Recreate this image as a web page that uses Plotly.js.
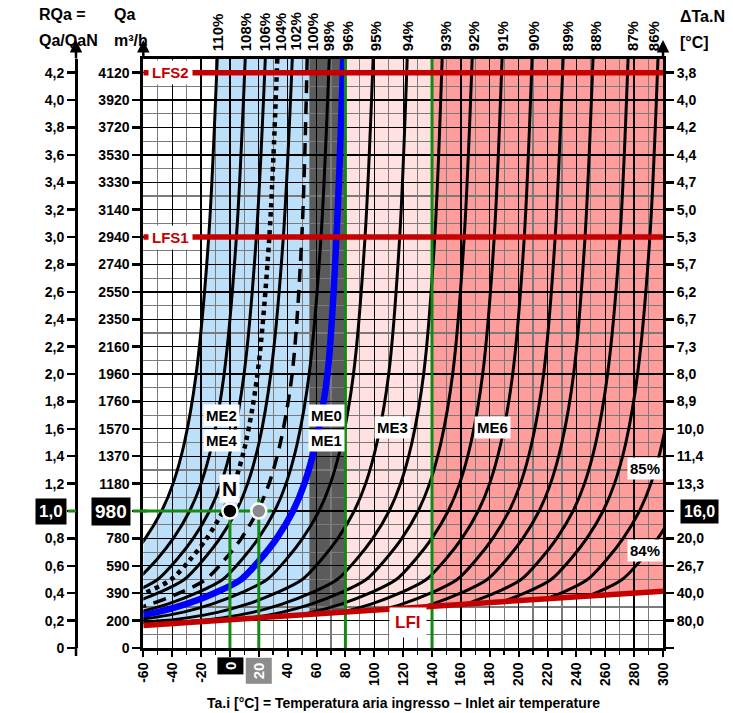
<!DOCTYPE html>
<html>
<head>
<meta charset="utf-8">
<script src="https://cdn.plot.ly/plotly-3.0.1.min.js"></script>
<style>
  html, body { margin: 0; padding: 0; background: #fff; }
  #chart { width: 733px; height: 713px; }
</style>
</head>
<body>
<div id="chart"></div>
<script>
// ---- RQa levels at which every efficiency curve is sampled ----
const rqaLevels = [4.3, 3.0, 2.0, 1.5, 1.2, 1.0, 0.8, 0.65, 0.5, 0.4, 0.32, 0.26, 0.22, 0.2, 0.18];

// ---- inlet air temperature (°C) of each efficiency curve at those levels ----
const eff110 = [-8.8, -14.7, -23.4, -31.5, -39.4, -47.3, -58.6, -69.7];
const eff108 = [10.6, 4.5, -4, -12.1, -20, -27.9, -39.2, -50.3, -63.9];
const eff106 = [24.5, 18.3, 9.8, 1.7, -6.2, -14.1, -25.4, -36.5, -50.1, -68.6];
const eff104 = [32.8, 27.3, 19.1, 11, 3.1, -4.8, -16.1, -27.2, -40.8, -59.3, -79];
const eff102 = [43.2, 37, 28.3, 20.2, 12.3, 4.4, -6.9, -18, -31.6, -50.1, -69.8];
const eff100 = [53.5, 49.8, 43.1, 35, 27.1, 19.2, 7.9, -3.2, -16.8, -35.3, -55, -75.5];
const eff98  = [68.8, 63.1, 54.9, 46.8, 38.9, 31, 19.7, 8.6, -5, -23.5, -43.2, -63.7];
const eff96  = [78.5, 73.8, 67.6, 59.5, 51.6, 43.7, 32.4, 21.3, 7.7, -10.8, -30.5, -51, -72];
const eff95  = [99.2, 93.6, 85.6, 77.5, 69.6, 61.7, 50.4, 39.3, 25.7, 7.2, -12.5, -33, -54, -70, -92];
const eff94  = [122.8, 117.6, 110, 101.9, 94, 86.1, 74.8, 63.7, 50.1, 31.6, 11.9, -8.6, -29.6, -45.6, -67.6];
const eff93  = [147, 141.9, 134.2, 126.1, 118.2, 110.3, 99, 87.9, 74.3, 55.8, 36.1, 15.6, -5.4, -21.4, -43.4];
const eff92  = [167.8, 162.3, 154.3, 146.2, 138.3, 130.4, 119.1, 108, 94.4, 75.9, 56.2, 35.7, 14.7, -1.3, -23.3];
const eff91  = [188.5, 183.1, 175.1, 167, 159.1, 151.2, 139.9, 128.8, 115.2, 96.7, 77, 56.5, 35.5, 19.5, -2.5];
const eff90  = [209.3, 203.9, 195.9, 187.8, 179.9, 172, 160.7, 149.6, 136, 117.5, 97.8, 77.3, 56.3, 40.3, 18.3];
const eff89  = [230.8, 225.3, 217.3, 209.2, 201.3, 193.4, 182.1, 171, 157.4, 138.9, 119.2, 98.7, 77.7, 61.7, 39.7];
const eff88  = [251.5, 246, 238.1, 230, 222.1, 214.2, 202.9, 191.8, 178.2, 159.7, 140, 119.5, 98.5, 82.5, 60.5];
const eff87  = [275.8, 270.2, 261.6, 253.5, 245.6, 237.7, 226.4, 215.3, 201.7, 183.2, 163.5, 143, 122, 106, 84];
const eff86  = [296.5, 290.9, 282.4, 274.3, 266.4, 258.5, 247.2, 236.1, 222.5, 204, 184.3, 163.8, 142.8, 126.8, 104.8];
const eff85  = [320, 314, 307.6, 299.5, 291.6, 283.7, 272.4, 261.3, 247.7, 229.2, 209.5, 189, 168, 152, 130];
const eff84  = [344, 338, 331.6, 323.5, 315.6, 307.7, 296.4, 285.3, 271.7, 253.2, 233.5, 213, 192, 176, 154];

// ---- limit lines ----
const lfiTemp = [-60, 300];      // LFI, lower flow limit
const lfiRqa  = [0.165, 0.415];
const lfs1Rqa = 3.0;             // LFS1
const lfs2Rqa = 4.2;             // LFS2

// ---- operating zones (inlet temperature bounds) ----
const zoneMeBlueEnd = 55;
const zoneMe0End    = 80;
const zoneMe3End    = 140;
const zoneMe6End    = 300;

// ---- nominal point ----
const nominalRqa   = 1.0;
const nominalTemp  = 0;
const secondTemp   = 20;
const nominalLineEnd = 29;       // end of the horizontal guide
const secondGuideTop = 1.09;     // top of the 20 °C guide

// ---- axis ticks ----
const rqaTicks = [0, 0.2, 0.4, 0.6, 0.8, 1.0, 1.2, 1.4, 1.6, 1.8, 2.0, 2.2, 2.4, 2.6, 2.8, 3.0, 3.2, 3.4, 3.6, 3.8, 4.0, 4.2];
const rqaText  = ['0', '0,2', '0,4', '0,6', '0,8', '1,0', '1,2', '1,4', '1,6', '1,8', '2,0', '2,2', '2,4', '2,6', '2,8', '3,0', '3,2', '3,4', '3,6', '3,8', '4,0', '4,2'];
const qaText   = ['0', '200', '390', '590', '780', '980', '1180', '1370', '1570', '1760', '1960', '2160', '2350', '2550', '2740', '2940', '3140', '3330', '3530', '3720', '3920', '4120'];
const dtText   = ['', '80,0', '40,0', '26,7', '20,0', '16,0', '13,3', '11,4', '10,0', '8,9', '8,0', '7,3', '6,7', '6,2', '5,7', '5,3', '5,0', '4,7', '4,4', '4,2', '4,0', '3,8'];
const tempTicks = [-60, -40, -20, 0, 20, 40, 60, 80, 100, 120, 140, 160, 180, 200, 220, 240, 260, 280, 300];

// ---- drawing setup ----
const FONT = "'Liberation Sans', Arial, sans-serif";
const RED = '#c40000', GREEN = '#138a13', BLUE = '#0000ff';
const Y_MAX = 4.3;

// label x positions of the efficiency names printed above the frame
const topLabelX = [-8.8, 10.6, 23.8, 34.9, 44.8, 57, 68.1, 81.2, 100.6, 122.8, 149.1, 168.5, 188.6, 210, 233.6, 253, 278.6, 293.2];

const curves = [
  { label: '110%', t: eff110, dash: 'solid' },
  { label: '108%', t: eff108, dash: 'solid' },
  { label: '106%', t: eff106, dash: 'solid' },
  { label: '104%', t: eff104, dash: 'dot' },
  { label: '102%', t: eff102, dash: 'solid' },
  { label: '100%', t: eff100, dash: 'dash' },
  { label: '98%',  t: eff98,  dash: 'solid' },
  { label: '96%',  t: eff96,  dash: 'solid', blue: true },
  { label: '95%',  t: eff95,  dash: 'solid' },
  { label: '94%',  t: eff94,  dash: 'solid' },
  { label: '93%',  t: eff93,  dash: 'solid' },
  { label: '92%',  t: eff92,  dash: 'solid' },
  { label: '91%',  t: eff91,  dash: 'solid' },
  { label: '90%',  t: eff90,  dash: 'solid' },
  { label: '89%',  t: eff89,  dash: 'solid' },
  { label: '88%',  t: eff88,  dash: 'solid' },
  { label: '87%',  t: eff87,  dash: 'solid' },
  { label: '86%',  t: eff86,  dash: 'solid' },
  { label: '85%',  t: eff85,  dash: 'solid', inside: true },
  { label: '84%',  t: eff84,  dash: 'solid', inside: true }
];

function lfiAt(t) {
  return lfiRqa[0] + (t - lfiTemp[0]) * (lfiRqa[1] - lfiRqa[0]) / (lfiTemp[1] - lfiTemp[0]);
}

// stop a curve where it meets the LFI line
function cutAtLfi(temps) {
  const xs = [], ys = [];
  for (let i = 0; i < temps.length; i++) {
    const t = temps[i], r = rqaLevels[i];
    if (i > 0 && r < lfiAt(t)) {
      const t0 = xs[i - 1], r0 = ys[i - 1];
      const f0 = r0 - lfiAt(t0), f1 = r - lfiAt(t);
      const k = f0 / (f0 - f1);
      xs.push(t0 + (t - t0) * k);
      ys.push(r0 + (r - r0) * k);
      break;
    }
    xs.push(t); ys.push(r);
  }
  return { xs, ys };
}

// keep the part of a curve that lies right of xmin
function clipLeft(xs, ys, xmin) {
  const px = [], py = [];
  for (let i = 0; i < xs.length; i++) {
    if (xs[i] >= xmin) { px.push(xs[i]); py.push(ys[i]); continue; }
    if (i > 0) {
      const k = (xmin - xs[i - 1]) / (xs[i] - xs[i - 1]);
      px.push(xmin); py.push(ys[i - 1] + (ys[i] - ys[i - 1]) * k);
    }
    break;
  }
  return { xs: px, ys: py };
}

function pathOf(pts) {
  return 'M' + pts.map(p => p[0] + ',' + p[1]).join('L') + 'Z';
}

// ---- zone fills (drawn under the grid) ----
const c110 = cutAtLfi(eff110);
const edge = clipLeft(c110.xs, c110.ys, lfiTemp[0]);
const bluePts = edge.xs.map((x, i) => [x, edge.ys[i]]);
bluePts.push([lfiTemp[0], lfiAt(lfiTemp[0])], [zoneMeBlueEnd, lfiAt(zoneMeBlueEnd)], [zoneMeBlueEnd, Y_MAX]);
function band(a, b) {
  return [[a, lfiAt(a)], [b, lfiAt(b)], [b, Y_MAX], [a, Y_MAX]];
}
const zoneShape = (pts, color) => ({
  type: 'path', xref: 'x', yref: 'y', layer: 'below',
  path: pathOf(pts), fillcolor: color, line: { width: 0 }
});

const shapes = [
  zoneShape(bluePts, '#bde0fa'),
  zoneShape(band(zoneMeBlueEnd, zoneMe0End), '#5b5b5b'),
  zoneShape(band(zoneMe0End, zoneMe3End), '#ffe1e1'),
  zoneShape(band(zoneMe3End, zoneMe6End), '#ff9c9c')
];

// ---- traces ----
const traces = [];
curves.forEach(c => {
  const p = cutAtLfi(c.t);
  let line;
  if (c.blue) line = { color: BLUE, width: 6.5, shape: 'spline', smoothing: 0.9 };
  else if (c.dash === 'dot') line = { color: '#000', width: 4.5, dash: '4.5px,4.5px', shape: 'spline', smoothing: 0.9 };
  else if (c.dash === 'dash') line = { color: '#000', width: 3.5, dash: '13px,8px', shape: 'spline', smoothing: 0.9 };
  else line = { color: '#000', width: 3, shape: 'spline', smoothing: 0.9 };
  traces.push({ x: p.xs, y: p.ys, type: 'scatter', mode: 'lines', hoverinfo: 'skip', line });
});

// green guides
const greenLine = (x, y) => ({ x, y, type: 'scatter', mode: 'lines', hoverinfo: 'skip', line: { color: GREEN, width: 3 } });
traces.push(greenLine([zoneMe0End, zoneMe0End], [0, Y_MAX]));
traces.push(greenLine([zoneMe3End, zoneMe3End], [0, Y_MAX]));
traces.push(greenLine([nominalTemp, nominalTemp], [0, nominalRqa]));
traces.push(greenLine([secondTemp, secondTemp], [0, secondGuideTop]));
traces.push(greenLine([lfiTemp[0], nominalLineEnd], [nominalRqa, nominalRqa]));

// limit lines
const redLine = (x, y) => ({ x, y, type: 'scatter', mode: 'lines', hoverinfo: 'skip', line: { color: RED, width: 5.5 } });
traces.push(redLine(lfiTemp, lfiRqa));
traces.push(redLine(lfiTemp, [lfs1Rqa, lfs1Rqa]));
traces.push(redLine(lfiTemp, [lfs2Rqa, lfs2Rqa]));

// operating points
traces.push({
  x: [nominalTemp, secondTemp], y: [nominalRqa, nominalRqa], type: 'scatter', mode: 'markers', hoverinfo: 'skip',
  marker: { size: 15, color: ['#000', '#8a8a8a'], line: { color: '#fff', width: 2.5 } }
});

// carriers for the extra y axes
traces.push({ x: [lfiTemp[0]], y: [0], yaxis: 'y2', type: 'scatter', mode: 'markers', marker: { opacity: 0 }, hoverinfo: 'skip' });
traces.push({ x: [lfiTemp[0]], y: [0], yaxis: 'y3', type: 'scatter', mode: 'markers', marker: { opacity: 0 }, hoverinfo: 'skip' });

// ---- geometry of the page ----
const W = 733, H = 713;
const M = { l: 76, r: 70, t: 59, b: 65 };
const PW = W - M.l - M.r, PH = H - M.t - M.b;
const xDomStart = (143.3 - M.l) / PW;
const px2paperX = px => (px - M.l) / PW;
const py2paperY = py => (H - M.b - py) / PH;

const tickFont = { family: FONT, size: 14, color: '#000', weight: 'bold' };
const blankAt = (arr, i) => arr.map((s, k) => (k === i ? '' : s));
const iNom = rqaTicks.indexOf(nominalRqa);

// ---- annotations ----
const ann = [];
const bold = (size, color) => ({ family: FONT, size, color: color || '#000', weight: 'bold' });

// efficiency labels above the frame
curves.filter(c => !c.inside).forEach((c, i) => {
  ann.push({ xref: 'x', yref: 'paper', x: topLabelX[i], y: 1, yshift: 7, yanchor: 'bottom', xanchor: 'center',
             textangle: -90, text: c.label, showarrow: false, font: bold(15), borderpad: 0 });
});
// efficiency labels inside the plot
const insideLabels = [
  { text: '85%', x: 287.4, y: 1.31 },
  { text: '84%', x: 287.4, y: 0.714 }
];
insideLabels.forEach(l => ann.push({ x: l.x, y: l.y, text: l.text, showarrow: false, bgcolor: '#fff', borderpad: 2, font: bold(15) }));

// zone names
const zoneLabels = [
  { text: 'ME2', x: -5.5, y: 1.70 }, { text: 'ME4', x: -5.5, y: 1.517 },
  { text: 'ME0', x: 67.2, y: 1.70 }, { text: 'ME1', x: 67.2, y: 1.517 },
  { text: 'ME3', x: 112.9, y: 1.61 }, { text: 'ME6', x: 182.1, y: 1.61 }
];
zoneLabels.forEach(l => ann.push({ x: l.x, y: l.y, text: l.text, showarrow: false, bgcolor: '#fff', borderpad: 2, font: bold(15) }));

// limit line names
ann.push({ x: -41.5, y: lfs2Rqa, text: 'LFS2', showarrow: false, bgcolor: '#fff', borderpad: 3, font: bold(15, RED) });
ann.push({ x: -41.5, y: lfs1Rqa, text: 'LFS1', showarrow: false, bgcolor: '#fff', borderpad: 3, font: bold(15, RED) });
ann.push({ x: 123.3, y: 0.188, text: 'LFI', showarrow: false, bgcolor: '#fff', borderpad: 5, font: bold(17, RED) });

// nominal point label
ann.push({ x: nominalTemp, y: nominalRqa, yshift: 23, text: 'N', showarrow: false, bgcolor: '#fff', borderpad: 2, font: bold(21) });

// highlighted tick values
ann.push({ xref: 'paper', x: 0, xshift: -9, xanchor: 'right', y: nominalRqa, text: rqaText[iNom], showarrow: false,
           bgcolor: '#000', borderpad: 3, font: bold(17, '#fff') });
ann.push({ xref: 'paper', x: xDomStart, xshift: -12, xanchor: 'right', y: nominalRqa, text: qaText[iNom], showarrow: false,
           bgcolor: '#000', borderpad: 3, font: bold(19, '#fff') });
ann.push({ xref: 'paper', x: 1, xshift: 17, xanchor: 'left', y: nominalRqa, text: dtText[iNom], showarrow: false,
           bgcolor: '#000', borderpad: 3, font: bold(16, '#fff') });
ann.push({ x: nominalTemp, yref: 'paper', y: 0, yshift: -9, yanchor: 'top', textangle: -90, text: String(nominalTemp),
           showarrow: false, bgcolor: '#000', borderpad: 4, font: bold(15, '#fff') });
ann.push({ x: secondTemp, yref: 'paper', y: 0, yshift: -9, yanchor: 'top', textangle: -90, text: String(secondTemp),
           showarrow: false, bgcolor: '#8c8c8c', borderpad: 4, font: bold(15, '#fff') });

// axis headers
ann.push({ xref: 'paper', yref: 'paper', x: px2paperX(37), y: py2paperY(15), yanchor: 'middle', text: 'RQa =', showarrow: false, font: bold(16) });
ann.push({ xref: 'paper', yref: 'paper', x: px2paperX(37), y: py2paperY(40), yanchor: 'middle', text: 'Qa/QaN', showarrow: false, font: bold(16) });
ann.push({ xref: 'paper', yref: 'paper', x: px2paperX(112), y: py2paperY(15), yanchor: 'middle', text: 'Qa', showarrow: false, font: bold(16) });
ann.push({ xref: 'paper', yref: 'paper', x: px2paperX(112), y: py2paperY(40), yanchor: 'middle', text: 'm³/h', showarrow: false, font: bold(16) });
ann.push({ xref: 'paper', yref: 'paper', x: px2paperX(678), xanchor: 'left', y: py2paperY(16), yanchor: 'middle', text: 'ΔTa.N', showarrow: false, font: bold(16) });
ann.push({ xref: 'paper', yref: 'paper', x: px2paperX(678), xanchor: 'left', y: py2paperY(42), yanchor: 'middle', text: '[°C]', showarrow: false, font: bold(16) });
ann.push({ xref: 'paper', yref: 'paper', x: px2paperX(403), y: py2paperY(703), yanchor: 'middle',
           text: 'Ta.i [°C] = Temperatura aria ingresso – Inlet air temperature', showarrow: false, font: bold(14) });

// axis arrows
[0, xDomStart, 1].forEach(x => ann.push({
  xref: 'paper', yref: 'paper', x, y: py2paperY(40), ax: 0, ay: 20, text: '', showarrow: true,
  arrowhead: 2, arrowsize: 1, arrowwidth: 2.5, arrowcolor: '#000'
}));

// green marks on the two left axes at the nominal flow
shapes.push({ type: 'line', xref: 'paper', yref: 'y', x0: px2paperX(68), x1: px2paperX(76), y0: nominalRqa, y1: nominalRqa, line: { color: GREEN, width: 3 } });
shapes.push({ type: 'line', xref: 'paper', yref: 'y', x0: px2paperX(133), x1: px2paperX(147), y0: nominalRqa, y1: nominalRqa, line: { color: GREEN, width: 3 } });
// RQa axis continues a little below zero
shapes.push({ type: 'line', xref: 'paper', yref: 'paper', x0: 0, x1: 0, y0: 0, y1: py2paperY(656), line: { color: '#000', width: 2.5 } });

const layout = {
  width: W, height: H,
  margin: M,
  paper_bgcolor: '#fff', plot_bgcolor: '#fff',
  showlegend: false, hovermode: false,
  xaxis: {
    domain: [xDomStart, 1], range: [lfiTemp[0], zoneMe6End],
    tickmode: 'array', tickvals: tempTicks,
    ticktext: tempTicks.map(v => (v === nominalTemp || v === secondTemp ? '' : String(v))),
    tickangle: -90, tickfont: tickFont,
    ticks: 'outside', ticklen: 6, tickwidth: 2, tickcolor: '#000',
    showline: true, linewidth: 3, linecolor: '#000', mirror: true,
    showgrid: true, gridcolor: '#000', gridwidth: 1.3, zeroline: false,
    minor: { tickmode: 'linear', tick0: -60, dtick: 10, showgrid: true, gridcolor: '#7a7a7a', gridwidth: 1.2,
             ticks: 'outside', ticklen: 4, tickcolor: '#000', tickwidth: 1.5 }
  },
  yaxis: {
    range: [0, Y_MAX], anchor: 'x', side: 'left',
    tickmode: 'array', tickvals: rqaTicks, ticktext: blankAt(qaText, iNom), tickfont: tickFont,
    ticks: 'outside', ticklen: 8, tickwidth: 2.5, tickcolor: '#000',
    showline: true, linewidth: 3, linecolor: '#000', mirror: true,
    showgrid: true, gridcolor: '#000', gridwidth: 1.3, zeroline: false,
    minor: { tickmode: 'linear', tick0: 0, dtick: 0.1, showgrid: true, gridcolor: '#7a7a7a', gridwidth: 1.2 }
  },
  yaxis2: {
    range: [0, Y_MAX], overlaying: 'y', anchor: 'free', position: 0, side: 'left',
    tickmode: 'array', tickvals: rqaTicks, ticktext: blankAt(rqaText, iNom), tickfont: tickFont,
    ticks: 'outside', ticklen: 8, tickwidth: 2.5, tickcolor: '#000',
    showline: true, linewidth: 3, linecolor: '#000', showgrid: false, zeroline: false
  },
  yaxis3: {
    range: [0, Y_MAX], overlaying: 'y', anchor: 'x', side: 'right',
    tickmode: 'array', tickvals: rqaTicks, ticktext: blankAt(dtText, iNom), tickfont: tickFont,
    ticks: 'outside', ticklen: 8, tickwidth: 2.5, tickcolor: '#000',
    showline: true, linewidth: 3, linecolor: '#000', showgrid: false, zeroline: false
  },
  shapes: shapes,
  annotations: ann
};

Plotly.newPlot('chart', traces, layout, { staticPlot: true, displayModeBar: false });
</script>
</body>
</html>
